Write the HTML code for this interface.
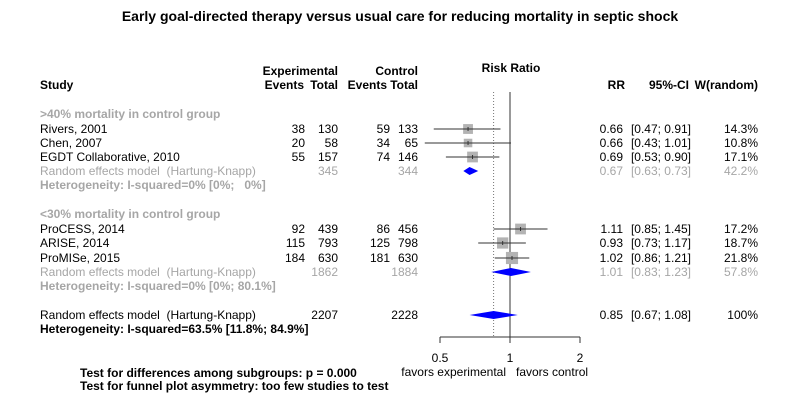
<!DOCTYPE html>
<html><head><meta charset="utf-8"><style>
html,body{margin:0;padding:0;background:#fff;}
svg{display:block;font-family:"Liberation Sans",Arial,sans-serif;font-size:12px;}
text{white-space:pre;}
.b{font-weight:bold}.g{fill:#a6a6a6}
</style></head><body>
<svg id="plot" width="800" height="400" viewBox="0 0 800 400" xmlns="http://www.w3.org/2000/svg" xml:space="preserve">
<text x="400" y="21" text-anchor="middle" class="b" font-size="14">Early goal-directed therapy versus usual care for reducing mortality in septic shock</text>
<g class="b">
<text x="40" y="89">Study</text>
<text x="338" y="75" text-anchor="end">Experimental</text>
<text x="304" y="89" text-anchor="end">Events</text>
<text x="338" y="89" text-anchor="end">Total</text>
<text x="418" y="75" text-anchor="end">Control</text>
<text x="387" y="89" text-anchor="end">Events</text>
<text x="418" y="89" text-anchor="end">Total</text>
<text x="511" y="72" text-anchor="middle">Risk Ratio</text>
<text x="625" y="89" text-anchor="end">RR</text>
<text x="689" y="89" text-anchor="end">95%-CI</text>
<text x="758" y="89" text-anchor="end">W(random)</text>
</g>
<g id="rows"></g>
<g id="marks"></g>
<text x="80" y="377" class="b">Test for differences among subgroups: p = 0.000</text>
<text x="80" y="390" class="b">Test for funnel plot asymmetry: too few studies to test</text>
</svg>
<script>
const studies=["Rivers, 2001","Chen, 2007","EGDT Collaborative, 2010","ProCESS, 2014","ARISE, 2014","ProMISe, 2015"];
const expEvents=[38,20,55,92,115,184];
const expTotal=[130,58,157,439,793,630];
const ctlEvents=[59,34,74,86,125,181];
const ctlTotal=[133,65,146,456,798,630];
const rr=[0.66,0.66,0.69,1.11,0.93,1.02];
const lo=[0.47,0.43,0.53,0.85,0.73,0.86];
const hi=[0.91,1.01,0.90,1.45,1.17,1.21];
const wt=[14.3,10.8,17.1,17.2,18.7,21.8];
const pooledLabels=["sub1","sub2","overall"];
const pooledRR=[0.67,1.01,0.85];
const pooledLo=[0.63,0.83,0.67];
const pooledHi=[0.73,1.23,1.08];
const pooledW=["42.2%","57.8%","100%"];
const pooledExpN=[345,1862,2207];
const pooledCtlN=[344,1884,2228];
const hetText=["Heterogeneity: I-squared=0% [0%;   0%]","Heterogeneity: I-squared=0% [0%; 80.1%]","Heterogeneity: I-squared=63.5% [11.8%; 84.9%]"];
const groupNames=[">40% mortality in control group","<30% mortality in control group"];
const ticks=[0.5,1,2];

const NS="http://www.w3.org/2000/svg";
const X=v=>510+70*Math.log2(v);
const studyY=[129,143,157,229,243,258];
const pooledY=[171,272,315];
function el(parent,tag,attrs,txt){const e=document.createElementNS(NS,tag);for(const k in attrs)e.setAttribute(k,attrs[k]);if(txt!==undefined)e.textContent=txt;parent.appendChild(e);return e;}
const rows=document.getElementById('rows'),marks=document.getElementById('marks');
const f2=v=>v.toFixed(2);
[114,214].forEach((y,i)=>{const t=el(rows,'text',{x:40,y:y+4,class:'b g'},groupNames[i]);

});
const axis=el(marks,'g',{});


el(axis,'line',{x1:X(ticks[0]),x2:X(ticks[ticks.length-1]),y1:337,y2:337,stroke:'#333'});
ticks.forEach(t=>{el(axis,'line',{x1:X(t),x2:X(t),y1:337,y2:343,stroke:'#333'});el(axis,'text',{x:X(t),y:362,'text-anchor':'middle'},String(t));});
el(axis,'text',{x:506,y:376,'text-anchor':'end'},'favors experimental');
el(axis,'text',{x:516,y:376},'favors control');
const ref=el(marks,'line',{x1:X(1),x2:X(1),y1:92,y2:337,stroke:'#333'});


const pl=el(marks,'line',{x1:X(pooledRR[2]),x2:X(pooledRR[2]),y1:92,y2:337,stroke:'#777','stroke-dasharray':'1,2'});


studies.forEach((s,i)=>{const y=studyY[i];
 const g=el(rows,'g',{});
 
 
 el(g,'text',{x:40,y:y+4},s);
 el(g,'text',{x:305,y:y+4,'text-anchor':'end'},expEvents[i]);
 el(g,'text',{x:338,y:y+4,'text-anchor':'end'},expTotal[i]);
 el(g,'text',{x:390,y:y+4,'text-anchor':'end'},ctlEvents[i]);
 el(g,'text',{x:418,y:y+4,'text-anchor':'end'},ctlTotal[i]);
 el(g,'text',{x:623,y:y+4,'text-anchor':'end'},f2(rr[i]));
 el(g,'text',{x:691,y:y+4,'text-anchor':'end'},'['+f2(lo[i])+'; '+f2(hi[i])+']');
 el(g,'text',{x:758,y:y+4,'text-anchor':'end'},wt[i].toFixed(1)+'%');
 const m=el(marks,'g',{});
 
 
 const sz=2.6*Math.sqrt(wt[i]);
 el(m,'rect',{x:X(rr[i])-sz/2,y:y-sz/2,width:sz,height:sz,fill:'#b3b3b3'});
 el(m,'line',{x1:X(lo[i]),x2:X(hi[i]),y1:y,y2:y,stroke:'#333'});
 el(m,'line',{x1:X(rr[i]),x2:X(rr[i]),y1:y-2,y2:y+2,stroke:'#333'});
});
pooledLabels.forEach((p,i)=>{const y=pooledY[i];const gray=i<2;const cls=gray?'g':'';
 const g=el(rows,'g',{});
 
 
 el(g,'text',{x:40,y:y+4,class:cls},'Random effects model  (Hartung-Knapp)');
 el(g,'text',{x:338,y:y+4,'text-anchor':'end',class:cls},pooledExpN[i]);
 el(g,'text',{x:418,y:y+4,'text-anchor':'end',class:cls},pooledCtlN[i]);
 el(g,'text',{x:623,y:y+4,'text-anchor':'end',class:cls},f2(pooledRR[i]));
 el(g,'text',{x:691,y:y+4,'text-anchor':'end',class:cls},'['+f2(pooledLo[i])+'; '+f2(pooledHi[i])+']');
 el(g,'text',{x:758,y:y+4,'text-anchor':'end',class:cls},pooledW[i]);
 el(g,'text',{x:40,y:y+18,class:'b '+cls},hetText[i]);
 const d=el(marks,'polygon',{points:`${X(pooledLo[i])},${y} ${X(pooledRR[i])},${y-4} ${X(pooledHi[i])},${y} ${X(pooledRR[i])},${y+4}`,fill:'#0000ff'});
 
 
});
</script>
</body></html>
